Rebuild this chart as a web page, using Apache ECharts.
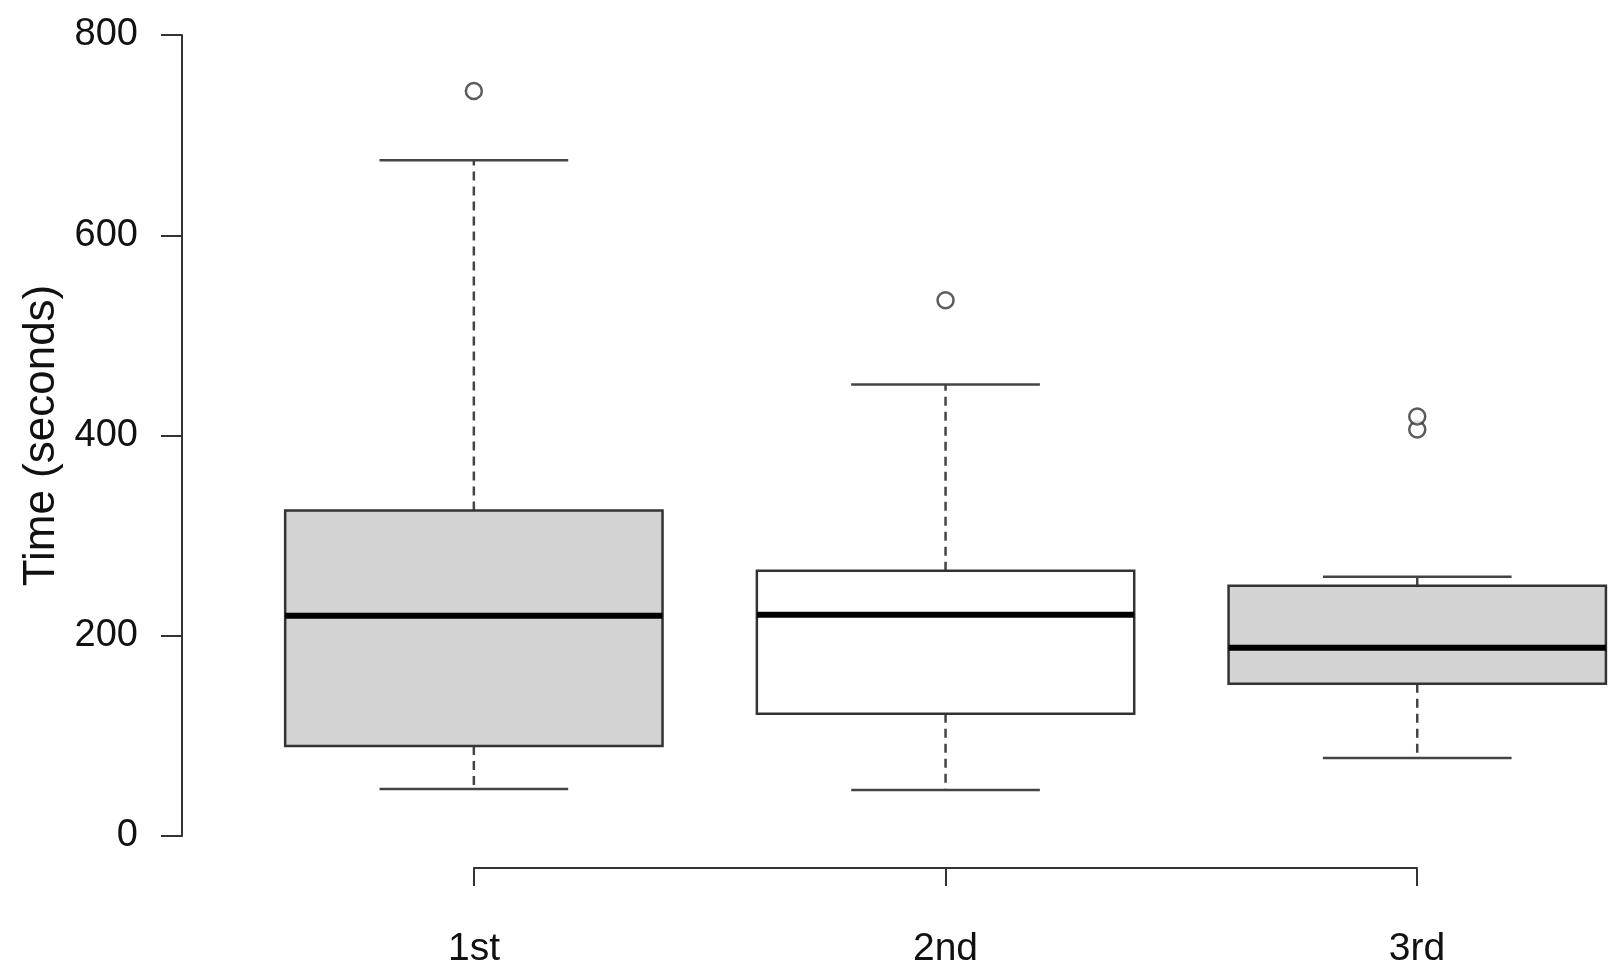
<!DOCTYPE html>
<html>
<head>
<meta charset="utf-8">
<script src="https://cdn.jsdelivr.net/npm/echarts@6/dist/echarts.min.js"></script>
<style>
  html, body { margin: 0; padding: 0; background: #fff; }
  #chart { width: 1618px; height: 977px; }
</style>
</head>
<body>
<div id="chart"></div>
<script>
// values
const categories = ['1st', '2nd', '3rd']
const lowWhisker = [47, 46, 78]
const lowerQuartile = [90, 122, 152]
const median = [220, 221, 188]
const upperQuartile = [325, 265, 250]
const highWhisker = [675, 451, 259]
const outlierGroup = [0, 1, 2, 2]
const outlierValue = [744, 535, 406, 419]
const yTicks = [0, 200, 400, 600, 800]

const boxFill = ['#d3d3d3', '#ffffff', '#d3d3d3']
const FONT = 'Liberation Sans, Arial, Helvetica, sans-serif'
const LINE = '#333'

const boxData = categories.map((c, i) => [
    i, lowWhisker[i], lowerQuartile[i], median[i], upperQuartile[i], highWhisker[i]
])
const outlierData = outlierGroup.map((g, i) => [g, outlierValue[i]])

function renderBox(params, api) {
    const i = api.value(0)
    const pLow = api.coord([i, api.value(1)])
    const pQ1 = api.coord([i, api.value(2)])
    const pMed = api.coord([i, api.value(3)])
    const pQ3 = api.coord([i, api.value(4)])
    const pHigh = api.coord([i, api.value(5)])
    const band = api.size([1, 0])[0]
    const hw = band * 0.4
    const cw = band * 0.2
    const x = pMed[0]
    const dashed = { stroke: '#444', lineWidth: 2.5, lineDash: [9, 6] }
    const solid = { stroke: '#444', lineWidth: 2.5 }
    return {
        type: 'group',
        children: [
            { type: 'line', shape: { x1: x, y1: pQ3[1], x2: x, y2: pHigh[1] }, style: dashed },
            { type: 'line', shape: { x1: x, y1: pQ1[1], x2: x, y2: pLow[1] }, style: dashed },
            { type: 'line', shape: { x1: x - cw, y1: pHigh[1], x2: x + cw, y2: pHigh[1] }, style: solid },
            { type: 'line', shape: { x1: x - cw, y1: pLow[1], x2: x + cw, y2: pLow[1] }, style: solid },
            {
                type: 'rect',
                shape: { x: x - hw, y: pQ3[1], width: hw * 2, height: pQ1[1] - pQ3[1] },
                style: { fill: boxFill[i], stroke: LINE, lineWidth: 2.5 }
            },
            { type: 'line', shape: { x1: x - hw, y1: pMed[1], x2: x + hw, y2: pMed[1] }, style: { stroke: '#000', lineWidth: 6 } }
        ]
    }
}

const myChart = echarts.init(document.getElementById('chart'))
myChart.setOption({
    backgroundColor: '#fff',
    animation: false,
    textStyle: { fontFamily: FONT },
    grid: [
        { left: 238, top: 35, width: 1380, height: 801 },
        { left: 474, top: 867, width: 943, height: 1 }
    ],
    xAxis: [
        {
            // group positions 0,1,2 on a plain value scale; the plot is cut at the right like the original
            gridIndex: 0, type: 'value', min: -0.5, max: 2.4256,
            show: false
        },
        {
            gridIndex: 1, type: 'category', data: categories, boundaryGap: false,
            position: 'bottom',
            axisLine: { show: true, lineStyle: { color: LINE, width: 2 } },
            axisTick: { show: true, length: 18, lineStyle: { color: LINE, width: 2 } },
            axisLabel: { fontSize: 39, color: '#111', margin: 62, fontFamily: FONT },
            splitLine: { show: false }
        }
    ],
    yAxis: [
        {
            gridIndex: 0, type: 'value', min: yTicks[0], max: yTicks[yTicks.length - 1], interval: 200,
            offset: 56,
            name: 'Time (seconds)', nameLocation: 'middle', nameGap: 118, nameRotate: 90,
            nameTextStyle: { fontSize: 44, color: '#111', fontFamily: FONT },
            axisLine: { show: true, onZero: false, lineStyle: { color: LINE, width: 2 } },
            axisTick: { show: true, length: 21, lineStyle: { color: LINE, width: 2 } },
            axisLabel: { fontSize: 38, color: '#111', margin: 44, fontFamily: FONT },
            splitLine: { show: false }
        },
        { gridIndex: 1, type: 'value', show: false }
    ],
    series: [
        {
            type: 'custom',
            xAxisIndex: 0, yAxisIndex: 0,
            renderItem: renderBox,
            encode: { x: 0, y: [1, 2, 3, 4, 5] },
            data: boxData
        },
        {
            type: 'scatter',
            xAxisIndex: 0, yAxisIndex: 0,
            symbol: 'circle', symbolSize: 16,
            itemStyle: { color: '#fff', borderColor: LINE, borderWidth: 2.5 },
            data: outlierData
        }
    ]
})
</script>
</body>
</html>
